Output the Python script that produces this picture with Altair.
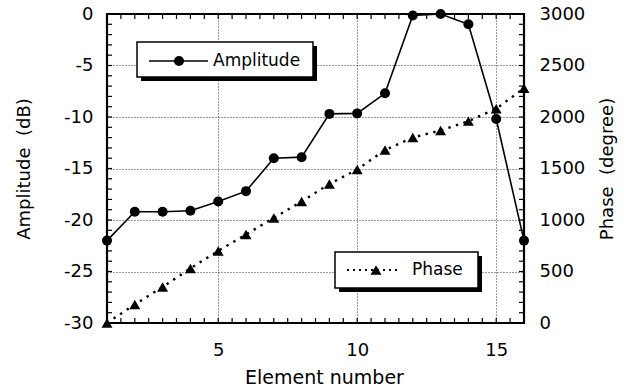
import altair as alt
import numpy as np
import pandas as pd

# Measured response per array element
elements = list(range(1, 17))
amplitude_db = [-22.0, -19.2, -19.2, -19.1, -18.2, -17.2, -14.0, -13.9,
                -9.7, -9.65, -7.7, -0.15, 0.0, -1.0, -10.2, -22.0]
phase_deg = [0, 180, 350, 530, 700, 860, 1020, 1180,
             1350, 1490, 1680, 1800, 1870, 1960, 2080, 2280]

x_ticks = [5, 10, 15]
amp_ticks = [-30, -25, -20, -15, -10, -5, 0]
phase_ticks = [0, 500, 1000, 1500, 2000, 2500, 3000]

W, H = 417, 309
FONT = "DejaVu Sans"
PLAIN = "'' + datum.value"  # plain hyphen minus, no thousands separator

df = pd.DataFrame({"element": elements, "amp": amplitude_db, "phase": phase_deg})
minor_x = pd.DataFrame({"t": np.arange(1, 16.01, 0.5)})
minor_y = pd.DataFrame({"t": np.arange(-30, 0.01, 1.0)})
one = pd.DataFrame({"k": [0]})

x_scale = alt.Scale(domain=[1, 16], nice=False, zero=False)
x_axis = alt.Axis(values=x_ticks, grid=True, gridDash=[1, 2], gridColor="black",
                  gridOpacity=0.8, ticks=False, domain=False, labelPadding=18,
                  labelFontSize=18, labelFont=FONT, labelColor="black", labelExpr=PLAIN,
                  titleFont=FONT, titleFontSize=19, titleFontWeight="normal",
                  titleColor="black", titleX=217, titleY=60, titleBaseline="alphabetic")

amp_scale = alt.Scale(domain=[-30, 0], nice=False, zero=False)
amp_axis = alt.Axis(orient="left", values=amp_ticks, grid=True, gridDash=[1, 2],
                    gridColor="black", gridOpacity=0.8, ticks=False, domain=False,
                    labelPadding=14, labelFontSize=18, labelFont=FONT, labelColor="black",
                    labelExpr=PLAIN,
                    titleFont=FONT, titleFontSize=18, titleFontWeight="normal",
                    titleColor="black", titleAngle=270, titleX=-83, titleY=H / 2,
                    titleBaseline="middle", titleAlign="center")

phase_scale = alt.Scale(domain=[0, 3000], nice=False, zero=False)
phase_axis = alt.Axis(orient="right", values=phase_ticks, grid=False, ticks=False,
                      domain=False, labelPadding=15, labelFontSize=18, labelFont=FONT,
                      labelColor="black", labelExpr=PLAIN, titleFont=FONT, titleFontSize=18,
                      titleFontWeight="normal", titleColor="black", titleAngle=270,
                      titleX=83, titleY=H / 2, titleBaseline="middle", titleAlign="center")

X = alt.X("element:Q", scale=x_scale, axis=x_axis, title="Element number")
XT = alt.X("t:Q", scale=x_scale, axis=x_axis, title="Element number")
Y_AMP = alt.Y("amp:Q", scale=amp_scale, axis=amp_axis, title="Amplitude\u00a0 (dB)")
Y_AMP_T = alt.Y("t:Q", scale=amp_scale, axis=amp_axis, title="Amplitude\u00a0 (dB)")

# Heavy black frame round the plot area
frame = alt.Chart(one).mark_rect(fill=None, stroke="black", strokeWidth=2.2).encode(
    x=alt.value(0), x2=alt.value(W), y=alt.value(0), y2=alt.value(H))

# Inward minor ticks on all four sides
tick_style = dict(color="black", strokeWidth=1.2)
ticks_bottom = alt.Chart(minor_x).mark_rule(**tick_style).encode(
    x=XT, y=alt.value(H), y2=alt.value(H - 5))
ticks_top = alt.Chart(minor_x).mark_rule(**tick_style).encode(
    x=XT, y=alt.value(0), y2=alt.value(5))
ticks_left = alt.Chart(minor_y).mark_rule(**tick_style).encode(
    y=Y_AMP_T, x=alt.value(0), x2=alt.value(5))
ticks_right = alt.Chart(minor_y).mark_rule(**tick_style).encode(
    y=Y_AMP_T, x=alt.value(W), x2=alt.value(W - 5))

amp_line = alt.Chart(df).mark_line(color="black", strokeWidth=1.6).encode(x=X, y=Y_AMP)
amp_pts = alt.Chart(df).mark_point(shape="circle", filled=True, color="black",
                                   size=100, opacity=1).encode(x=X, y=Y_AMP)

amp_group = alt.layer(ticks_bottom, ticks_top, ticks_left, ticks_right, frame,
                      amp_line, amp_pts)

Y_PH = alt.Y("phase:Q", scale=phase_scale, axis=phase_axis, title="Phase\u00a0 (degree)")
ph_line = alt.Chart(df).mark_line(color="black", strokeWidth=2.4,
                                  strokeDash=[2.4, 5.5]).encode(x=X, y=Y_PH)
ph_pts = alt.Chart(df).mark_point(shape="triangle-up", filled=True, color="black",
                                  size=120, opacity=1).encode(x=X, y=Y_PH)
phase_group = alt.layer(ph_line, ph_pts)


def legend_box(x0, x1, y0, y1):
    shadow = alt.Chart(one).mark_rect(color="black").encode(
        x=alt.value(x0 + 4), x2=alt.value(x1 + 4), y=alt.value(y0 + 4), y2=alt.value(y1 + 4))
    box = alt.Chart(one).mark_rect(fill="white", stroke="black", strokeWidth=1.5).encode(
        x=alt.value(x0), x2=alt.value(x1), y=alt.value(y0), y2=alt.value(y1))
    return [shadow, box]


amp_key = legend_box(30, 206, 28, 63) + [
    alt.Chart(one).mark_rule(color="black", strokeWidth=1.5).encode(
        x=alt.value(42), x2=alt.value(101), y=alt.value(47)),
    alt.Chart(one).mark_point(shape="circle", filled=True, color="black", size=100,
                              opacity=1).encode(x=alt.value(72), y=alt.value(47)),
    alt.Chart(one).mark_text(text="Amplitude", align="left", baseline="middle",
                             font=FONT, fontSize=17, color="black").encode(
        x=alt.value(106), y=alt.value(47)),
]

phase_key = legend_box(228, 371, 238, 274) + [
    alt.Chart(one).mark_rule(color="black", strokeWidth=2, strokeDash=[2, 4]).encode(
        x=alt.value(240), x2=alt.value(291), y=alt.value(256)),
    alt.Chart(one).mark_point(shape="triangle-up", filled=True, color="black", size=120,
                              opacity=1).encode(x=alt.value(269), y=alt.value(256)),
    alt.Chart(one).mark_text(text="Phase", align="left", baseline="middle",
                             font=FONT, fontSize=17, color="black").encode(
        x=alt.value(305), y=alt.value(256)),
]

chart = alt.layer(amp_group, phase_group, *amp_key, *phase_key).resolve_scale(
    y="independent"
).properties(
    width=W, height=H, autosize="none",
    padding={"left": 107, "top": 14, "right": 104, "bottom": 69},
    background="white",
).configure_view(strokeWidth=0)

chart.save("out.html", embed_options={"renderer": "svg", "actions": False})
